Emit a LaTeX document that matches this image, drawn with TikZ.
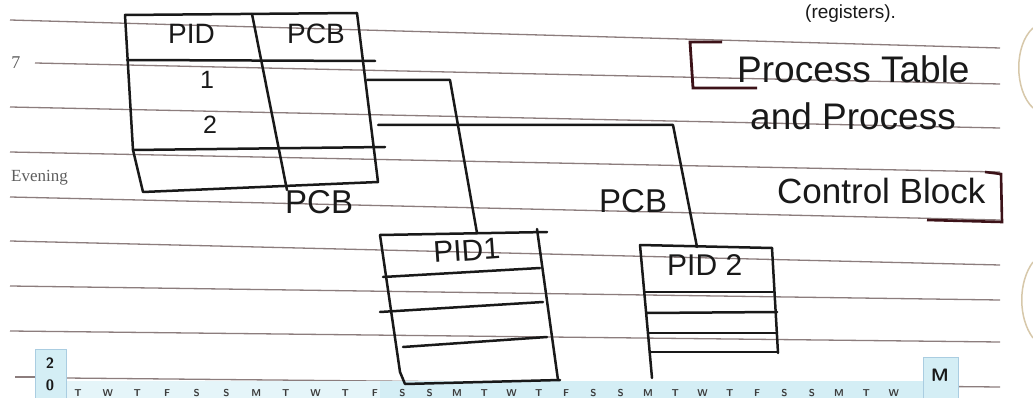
\documentclass[tikz,border=0pt]{standalone}
\usepackage{fontspec}
\setmainfont{Liberation Sans}
\newfontfamily\printfont{Liberation Serif}
\definecolor{ink}{RGB}{25,25,25}
\definecolor{rulecol}{RGB}{140,125,125}
\definecolor{stripblue}{RGB}{212,238,245}
\definecolor{boxblue}{RGB}{170,205,225}
\definecolor{redink}{RGB}{60,18,24}
\definecolor{edgecol}{RGB}{215,200,170}
\tikzset{
  ink/.style={draw=ink, line width=2.5pt, line cap=round, line join=round},
  ruled/.style={draw=rulecol, line width=1.3pt},
  hand/.style={text=ink, inner sep=0pt},
  day/.style={text=ink!85, inner sep=0pt, anchor=base, font=\sffamily\bfseries\fontsize{10}{10}\selectfont},
  print/.style={text=ink!70, inner sep=0pt, font=\printfont\fontsize{17}{17}\selectfont},
}
\newcommand{\hfs}[1]{\fontsize{#1}{#1}\selectfont}
\begin{document}
\begin{tikzpicture}[x=1pt,y=-1pt]
\useasboundingbox (0,0) rectangle (1033,398);
\clip (0,0) rectangle (1033,398);
\fill[white] (0,0) rectangle (1033,398);

% ruled notebook lines
\foreach \a/\b/\s in {20/48/10,63/84/35,107/128/10,152/172/10,197/220/10,241/265/10,286/300/10,331/342/10}
  \draw[ruled] (\s,\a) -- (1000,\b);
\draw[ruled] (15,377) -- (35,377);
\draw[ruled] (65,378) -- (1000,387);

% page edge marks
\draw[edgecol, line width=1.5pt] (1033,28) .. controls (1014,45) and (1014,90) .. (1033,108);
\draw[edgecol, line width=1.5pt] (1033,262) .. controls (1018,282) and (1018,318) .. (1033,338);

% calendar strip
\fill[stripblue!60] (65,381) rectangle (923,398);
\fill[stripblue] (380,381) rectangle (923,398);
\filldraw[fill=stripblue, draw=boxblue, line width=0.8pt] (35,349) rectangle (66,400);
\filldraw[fill=stripblue, draw=boxblue, line width=0.8pt] (923,357) rectangle (958,400);
\node[inner sep=0pt, font=\sffamily\bfseries\hfs{15}, text=ink] (d2) at (50,363) {2};
\node[inner sep=0pt, font=\sffamily\bfseries\hfs{15}, text=ink] (d0) at (50,385) {0};
\node[inner sep=0pt, font=\sffamily\bfseries\hfs{18}, text=ink] (dm) at (940,375) {M};
\foreach \l [count=\i from 0] in {T,W,T,F,S,S,M,T,W,T}
  \node[day] (dl\i) at ({78+29.7*\i},396) {\l};
\foreach \l [count=\i from 10] in {F,S,S,M,T,W,T,F,S,S,M,T,W,T,F,S,S,M,T,W}
  \node[day] (dl\i) at ({375+27.3*(\i-10)},396) {\l};

% margin print
\node[print, font=\printfont\hfs{18}] (seven) at (16,63) {7};
\node[print, anchor=base west] (evening) at (11,182) {Evening};

% partial heading at the top
\node[hand, anchor=base west, font=\hfs{19}] (regs) at (805,19) {(registers).};

% ---------------- process table ----------------
\coordinate (ta) at (125,15);
\coordinate (tb) at (357,13);
\coordinate (tc) at (378,182);
\coordinate (td) at (143,192);
\draw[ink] (ta) -- (tb) -- (tc) -- (td) -- (133,150) -- cycle;
\draw[ink] (252,14) -- (287,190);
\draw[ink] (127,60) -- (375,61);
\draw[ink] (133,150) -- (385,147);

\node[hand, anchor=base west, font=\hfs{28}] (hpid) at (168,44) {PID};
\node[hand, anchor=base west, font=\hfs{28}] (hpcb) at (287,44) {PCB};
\node[hand, font=\hfs{25}] (r1) at (207,80) {1};
\node[hand, font=\hfs{25}] (r2) at (210,125) {2};

% ---------------- PCB of process 1 ----------------
\coordinate (aa) at (380,235);
\coordinate (ab) at (547,232);
\coordinate (ac) at (558,380);
\draw[ink] (aa) -- (ab);
\draw[ink] (aa) -- (400,372) -- (405,384) -- (560,380);
\draw[ink] (537,229) -- (ac);
\draw[ink] (383,277) -- (540,268);
\draw[ink] (380,312) -- (543,302);
\draw[ink] (403,347) -- (547,337);
\node[hand, anchor=base west, font=\hfs{30}, rotate=4] (pid1) at (434,263) {PID1};

% ---------------- PCB of process 2 ----------------
\coordinate (ba) at (640,245);
\coordinate (bb) at (772,248);
\draw[ink] (ba) -- (bb);
\draw[ink] (ba) -- (652,378);
\draw[ink] (bb) -- (778,353);
\draw[ink] (645,292) -- (773,292);
\draw[ink] (647,313) -- (777,312);
\draw[ink] (649,333) -- (777,333);
\draw[ink] (650,352) -- (778,352);
\node[hand, anchor=base west, font=\hfs{30}] (pid2) at (667,275) {PID 2};

% ---------------- connectors ----------------
\coordinate (s1) at (367,80);
\coordinate (k1) at (450,80);
\coordinate (e1) at (477,233);
\coordinate (s2) at (378,125);
\coordinate (k2) at (673,125);
\coordinate (e2) at (697,247);
\draw[ink] (s1) -- (k1) -- (e1);
\draw[ink] (s2) -- (k2) -- (e2);

\node[hand, anchor=base west, font=\hfs{33}] (lpcb1) at (285,214) {PCB};
\node[hand, anchor=base west, font=\hfs{33}] (lpcb2) at (599,212) {PCB};

% ---------------- caption ----------------
\draw[redink, line width=2.8pt, line join=miter] (722,42) -- (690,42) -- (693,88) -- (757,88);
\draw[redink, line width=2.6pt, line join=miter] (985,172) -- (1001,174) -- (1002,222) -- (927,220);
\node[hand, anchor=base west, font=\hfs{37}] (cap1) at (737,83) {Process Table};
\node[hand, anchor=base west, font=\hfs{37}] (cap2) at (750,130) {and Process};
\node[hand, anchor=base west, font=\hfs{35}] (cap3) at (777,204) {Control Block};
\end{tikzpicture}
\end{document}
